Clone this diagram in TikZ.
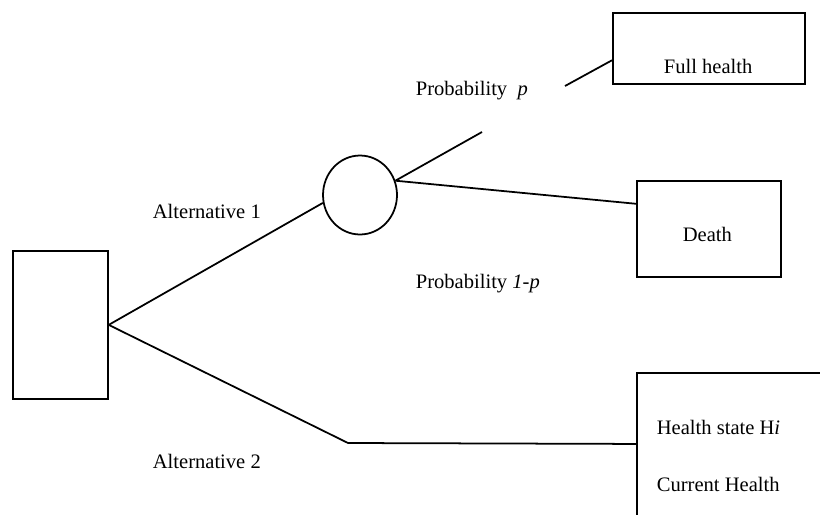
\documentclass[tikz,border=0pt]{standalone}
\usepackage{fontspec}
\setmainfont{Liberation Serif}
\usetikzlibrary{shapes.geometric}
\begin{document}
\begin{tikzpicture}[x=0.02cm, y=-0.02cm, line width=1pt,
% common options for the boxes:
box/.style = {rectangle, draw, anchor=north west, inner sep=0},
% common options for the chance node:
chance/.style = {ellipse, draw, inner sep=0,
            minimum width=1.48cm, minimum height=1.58cm},
% common options for the texts:
txt/.style = {anchor=base west, inner sep=0,
            font=\fontsize{11.7}{14}\selectfont}]
\clip (0,0) rectangle (820,514);
\node[box,minimum width=1.9cm,minimum height=2.96cm] (D0) at (12,250) {};
\node[chance] (C1) at (360,195) {};
\node[box,minimum width=3.84cm,minimum height=1.42cm] (T1) at (612,12) {};
\node[box,minimum width=2.88cm,minimum height=1.92cm] (T2) at (636,180) {};
\node[box,minimum width=4cm,minimum height=4cm] (T3) at (636,372) {};
\node[txt] (L1) at (152,218) {Alternative 1};
\node[txt] (L2) at (152,468) {Alternative 2};
\node[txt] (L3) at (415,95) {Probability\ \ \textit{p}};
\node[txt] (L4) at (415,288) {Probability \textit{1-p}};
\node[txt] (L5) at (663,73) {Full health};
\node[txt] (L6) at (682,241) {Death};
\node[txt] (L7) at (656,434) {Health state H\textit{i}};
\node[txt] (L8) at (656,491) {Current Health};
\coordinate (P1) at (482,132);
\coordinate (P2) at (565,86);
\coordinate (K2) at (348,443);
\draw (D0.east) to (C1.192);
\draw (C1.22) to (P1);
\draw (P2) to (T1.187);
\draw (C1.22) to (T2.161);
\draw (D0.east) to (K2) to (T3.164);
\end{tikzpicture}
\end{document}
